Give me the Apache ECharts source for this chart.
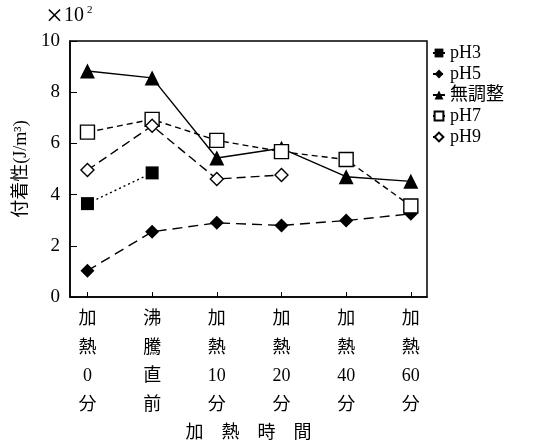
<!DOCTYPE html>
<html><head><meta charset="utf-8">
<script src="https://cdn.jsdelivr.net/npm/echarts@6/dist/echarts.min.js"></script>
<style>html,body{margin:0;padding:0;background:#fff}#c{width:533px;height:447px}</style>
</head><body><div id="c"></div>
<script>
var categories = ['加\n熱\n0\n分','沸\n騰\n直\n前','加\n熱\n10\n分','加\n熱\n20\n分','加\n熱\n40\n分','加\n熱\n60\n分'];
var yTicks = [0,2,4,6,8,10];
var pH3 = [3.65, 4.85, null, null, null, null];
var pH5 = [1.03, 2.55, 2.9, 2.8, 2.99, 3.25];
var noAdjust = [8.83, 8.56, 5.43, 5.81, 4.7, 4.52];
var pH7 = [6.44, 6.94, 6.12, 5.68, 5.37, 3.56];
var pH9 = [4.96, 6.69, 4.61, 4.77, null, null];

var FF = "'Liberation Serif','Noto Sans CJK JP',serif";
function pts(arr){ var o=[]; arr.forEach(function(v,i){ if(v!==null) o.push([i,v]); }); return o; }
function mk(name, arr, symbol, size, filled, dash){
  return {
    name:name, type:'line', data:pts(arr), symbol:symbol, symbolSize:size,
    lineStyle:{color:'#000', width:1.4, type:dash},
    itemStyle:{color: filled ? '#000' : '#fff', borderColor:'#000', borderWidth: filled?0:1.4},
    z: filled?3:4
  };
}
var chart = echarts.init(document.getElementById('c'), null, {renderer:'canvas'});
chart.setOption({
  animation:false,
  backgroundColor:'#fff',
  graphic:[{type:'text', left:46, top:2, style:{text:'×', fontSize:30, fontFamily:FF, fill:'#000'}},
           {type:'text', left:64, top:6, style:{text:'10', fontSize:20, fontFamily:FF, fill:'#000'}},
           {type:'text', left:87, top:5, style:{text:'2', fontSize:11, fontFamily:FF, fill:'#000'}}],
  grid:{left:70, right:106, top:41, bottom:143, show:true, borderColor:'#000', borderWidth:1.5, backgroundColor:'transparent'},
  legend:{
    orient:'vertical', left:427, top:39, itemWidth:12, itemHeight:11, itemGap:3,
    textStyle:{fontFamily:FF, fontSize:18, lineHeight:18, color:'#000'},
    data:['pH3','pH5','無調整','pH7','pH9']
  },
  xAxis:{
    type:'value', min:-0.27, max:5.25,
    splitLine:{show:false},
    axisLine:{show:true, lineStyle:{color:'#000', width:1.5}},
    axisTick:{show:true, inside:true, length:5, customValues:[0,1,2,3,4,5], lineStyle:{color:'#000'}},
    axisLabel:{show:true, customValues:[0,1,2,3,4,5], margin:8, color:'#000', fontFamily:FF, fontSize:18, lineHeight:28.5,
      formatter:function(v){ return categories[Math.round(v)]; }},
    name:'加　熱　時　間', nameLocation:'middle', nameGap:122,
    nameTextStyle:{fontFamily:FF, fontSize:18, color:'#000'}
  },
  yAxis:{
    type:'value', min:0, max:10, interval:2,
    splitLine:{show:false},
    axisLine:{show:true, onZero:false, lineStyle:{color:'#000', width:1.5}},
    axisTick:{show:true, inside:true, length:7, lineStyle:{color:'#000'}},
    axisLabel:{color:'#000', fontFamily:FF, fontSize:19, margin:10},
    name:'付着性(J/m³)', nameLocation:'middle', nameGap:36, nameRotate:90,
    nameTextStyle:{fontFamily:FF, fontSize:18, color:'#000'}
  },
  series:[
    mk('pH3', pH3, 'rect', 13, true, [2,3]),
    mk('pH5', pH5, 'diamond', 14, true, [10,6]),
    mk('無調整', noAdjust, 'triangle', 15, true, 'solid'),
    mk('pH7', pH7, 'rect', 14, false, [6,4]),
    mk('pH9', pH9, 'diamond', 13, false, [9,5])
  ]
});
</script></body></html>
